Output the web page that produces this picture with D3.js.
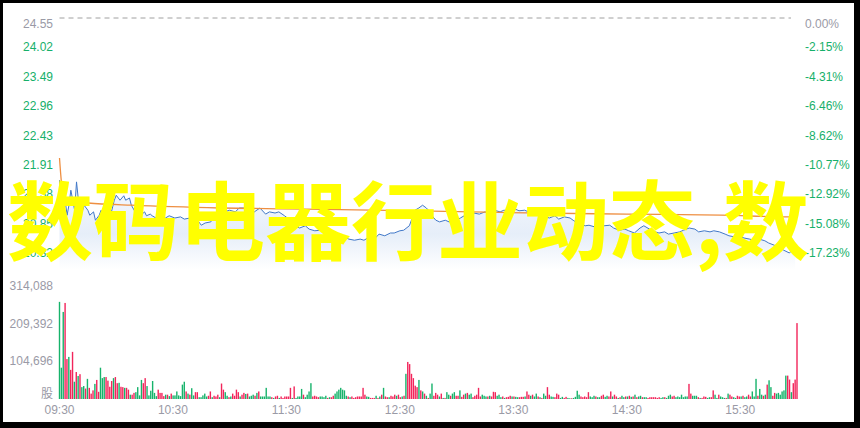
<!DOCTYPE html>
<html><head><meta charset="utf-8">
<script src="https://cdn.jsdelivr.net/npm/d3@7"></script>
<style>html,body{margin:0;padding:0;background:#000;}svg{display:block;}</style>
</head><body>
<svg id="c" width="860" height="428"></svg>
<script>
// ---- data ----
const priceTicks = [24.55, 24.02, 23.49, 22.96, 22.43, 21.91, 21.38, 20.85, 20.32];
const pctTicks = ["0.00%", "-2.15%", "-4.31%", "-6.46%", "-8.62%", "-10.77%", "-12.92%", "-15.08%", "-17.23%"];
const volTicks = [314088, 209392, 104696];
const volTickLabels = ["314,088", "209,392", "104,696"];
const timeTicks = [0, 60, 120, 180, 240, 300, 360];
const timeLabels = ["09:30", "10:30", "11:30", "12:30", "13:30", "14:30", "15:30"];
const prevClose = 24.55;

const priceMinutes = [0,1,2,3,4,5,6,7,8,9,10,11,12,13,15,16,18,19,21,22,24,26,27,29,30,32,34,35,37,38,40,41,43,45,46,48,49,51,53,56,58,61,64,66,69,72,73,75,77,80,82,85,87,90,93,95,98,101,103,106,109,111,114,116,119,122,124,127,130,132,135,138,140,143,146,148,151,153,156,159,161,164,167,169,172,175,177,180,182,185,187,188,190,192,194,196,197,199,201,204,206,209,212,214,217,219,222,225,227,230,233,235,238,241,243,246,248,251,254,256,259,262,264,267,270,272,275,278,280,283,286,288,291,293,296,299,301,304,307,309,312,315,317,320,322,325,328,330,333,336,338,341,344,346,349,352,354,357,359,362,365,367,370,373,375,378,381,383,386,389];
const prices = [21.63,21.36,21.00,21.27,21.00,21.18,21.45,21.27,21.09,21.60,21.27,21.09,21.06,21.18,21.09,21.00,21.06,20.91,21.00,21.09,20.95,20.82,21.00,21.27,21.36,21.27,21.35,21.27,21.31,21.18,21.06,21.13,21.00,21.06,20.99,21.02,20.99,20.95,20.99,20.95,20.99,20.95,20.97,20.93,20.95,20.88,20.91,20.82,20.86,20.88,20.99,21.06,21.06,21.09,21.06,21.13,21.13,21.09,21.06,21.13,21.02,21.06,21.04,21.06,20.99,20.91,20.82,20.77,20.81,20.75,20.72,20.73,20.70,20.72,20.66,20.63,20.61,20.57,20.55,20.57,20.55,20.61,20.59,20.66,20.63,20.68,20.68,20.72,20.73,20.81,20.99,21.09,21.13,21.18,21.13,21.06,20.99,20.91,20.88,20.91,20.88,20.90,20.95,20.99,21.00,21.04,21.02,21.06,21.04,21.09,21.06,21.09,21.08,21.11,21.08,21.09,21.06,21.09,21.06,20.99,20.95,20.99,20.93,20.97,20.95,20.90,20.84,20.81,20.82,20.79,20.77,20.81,20.82,20.77,20.73,20.75,20.72,20.68,20.77,20.81,20.75,20.70,20.68,20.70,20.66,20.68,20.70,20.73,20.77,20.75,20.70,20.72,20.70,20.72,20.70,20.66,20.63,20.61,20.63,20.59,20.57,20.55,20.57,20.54,20.50,20.46,20.41,20.37,20.32,20.43];

const avgMinutes = [0, 1, 2, 3, 5, 15, 38, 85, 130, 190, 233, 300, 350, 388, 390];
const avgPrices = [22.03, 21.60, 21.35, 21.27, 21.25, 21.22, 21.18, 21.13, 21.11, 21.08, 21.05, 21.02, 21.00, 20.97, 21.01];

// volume (thousand shares) per minute and bar colour (R = up, G = down)
const volumesK = [
 270,87,242,267,111,117,81,131,48,75,64,69,33,36,29,56,31,15,24,42,53,20,87,58,61,61,51,34,50,58,61,44,45,34,33,31,31,26,12,12,17,19,33,10,53,44,58,36,10,23,50,17,8,26,17,17,8,12,12,8,15,10,10,21,10,8,40,48,21,15,12,30,10,19,
 19,5,5,10,15,7,9,21,5,9,7,12,5,43,26,19,9,5,7,15,9,26,19,7,12,17,14,15,7,9,12,9,17,21,7,7,7,31,7,7,5,3,7,9,3,7,3,7,7,7,31,3,35,3,7,7,28,12,5,12,21,44,7,9,7,5,7,7,5,9,3,5,5,9,15,21,26,31,26,24,9,7,5,7,3,5,7,7,7,31,12,7,6,3,3,3,9,3,7,12,31,7,5,5,9,7,12,9,12,5,7,9,
 70,103,97,70,
 58,37,33,53,24,21,15,9,3,15,43,9,17,12,7,15,3,3,19,12,9,15,19,9,9,24,6,12,15,17,12,15,5,9,12,31,7,12,9,7,7,9,7,20,19,9,12,5,7,3,5,6,9,7,7,6,5,5,6,6,7,21,12,9,12,7,15,7,5,3,15,9,33,12,7,6,5,15,12,3,6,3,6,3,2,2,3,6,23,12,7,5,7,5,19,7,5,9,7,5,5,9,12,6,9,7,21,7,12,7,3,5,9,5,7,7,9,6,7,12,5,7,9,5,
 5,5,3,5,5,5,5,3,5,3,5,5,3,
 9,12,7,9,5,7,5,12,5,7,7,42,15,9,9,9,5,3,3,7,6,3,5,5,24,12,3,12,7,5,3,3,15,12,7,5,3,9,7,7,9,5,7,12,7,21,7,56,9,28,12,9,12,40,52,33,9,17,15,17,12,21,24,65,65,54,19,44,54,211
];
const volDirs = (
 "GGGRRGRRGRGRGGRGRRRGRRGGGRRRRGRRGRRGRRGRRGGGGRRGGGGGGRRRRGRGRGGGGGGGRGRGGR" +
 "RGGGGGRRGRRRGRRGGRGRRRRGRRGRGGGRGRGGGGGGRGRRGRRRRRRGRGGGGRGGGGRRRRGGGGRGRRGGGGGGGRGRRRRRRRRGGRRRGRGRGRRGRRRGRRGR" +
 "GRRR" +
 "RRRGRGRGRGGRRRGRGRGGRGGRRGRRGRGGRRRRRGGGRGRRRGGGRGRRRGRGGRRRGRRGRGGRGRGGRRGGRRRGGRRGGRGGGGRRRRRGGGRGGRRGGRRGRRGRGGRGRGRGRGGR" +
 "GGRRRRRRRGGRG" +
 "GGRRGGGGGGGRRGGGRGRRRGGRRGGRGGGRGRRGGRRGRGGRRGGGRGGRGRGGRRGGGGGGRRGRRR"
).split("");

// ---- layout ----
const plotL = 59.5, plotR = 797;
const priceTop = 18, priceLow = 253, priceBottom = 270;
const volTop = 286, volBase = 399;

const svg = d3.select("#c");
svg.append("rect").attr("x", 3).attr("y", 3).attr("width", 851).attr("height", 419).attr("fill", "#fff");

const x = d3.scaleLinear().domain([0, 390]).range([plotL, plotR]);
const y = d3.scaleLinear().domain([priceTicks[priceTicks.length - 1], priceTicks[0]]).range([priceLow, priceTop]);
const xv = d3.scaleLinear().domain([0, volumesK.length - 1]).range([plotL, plotR]);
const yv = d3.scaleLinear().domain([0, volTicks[0] / 1000]).range([volBase, volTop]);

const font = "'Liberation Sans', Arial, sans-serif";
const gray = "#9a9aa6", green = "#16b06a";

// gradient for price area
const defs = svg.append("defs");
const grad = defs.append("linearGradient").attr("id", "g1").attr("gradientUnits", "userSpaceOnUse")
  .attr("x1", 0).attr("x2", 0).attr("y1", 190).attr("y2", priceBottom);
grad.append("stop").attr("offset", 0).attr("stop-color", "#f3f7fd");
grad.append("stop").attr("offset", 0.55).attr("stop-color", "#e6eef9");
grad.append("stop").attr("offset", 1).attr("stop-color", "#ffffff");

// prev close dashed line
svg.append("line").attr("x1", plotL).attr("x2", plotR - 6)
  .attr("y1", y(prevClose)).attr("y2", y(prevClose))
  .attr("stroke", "#a0a0a0").attr("stroke-width", 1).attr("stroke-dasharray", "5,4");

const pts = priceMinutes.map((m, i) => [m, prices[i]]);
svg.append("path").datum(pts)
  .attr("d", d3.area().x(d => x(d[0])).y0(priceBottom).y1(d => y(d[1])))
  .attr("fill", "url(#g1)");
svg.append("path").datum(pts)
  .attr("d", d3.line().x(d => x(d[0])).y(d => y(d[1])))
  .attr("fill", "none").attr("stroke", "#4178c8").attr("stroke-width", 1);

const apts = avgMinutes.map((m, i) => [m, avgPrices[i]]);
svg.append("path").datum(apts)
  .attr("d", d3.line().curve(d3.curveMonotoneX).x(d => x(d[0])).y(d => y(d[1])))
  .attr("fill", "none").attr("stroke", "#ee8f42").attr("stroke-width", 1.3);

// price labels
priceTicks.forEach((v, i) => {
  const off = i === 0 ? 10 : 4;
  svg.append("text").attr("x", 53).attr("y", y(v) + off).attr("text-anchor", "end")
    .attr("font-family", font).attr("font-size", 12).attr("fill", i === 0 ? gray : green).text(v.toFixed(2));
  svg.append("text").attr("x", 805).attr("y", y(v) + off).attr("text-anchor", "start")
    .attr("font-family", font).attr("font-size", 12).attr("fill", i === 0 ? gray : green).text(pctTicks[i]);
});

// volume bars
const colR = "#f2255b", colG = "#17b36b";
svg.append("g").selectAll("rect").data(volumesK).join("rect")
  .attr("x", (d, i) => xv(i) - 0.7).attr("width", 1.4)
  .attr("y", d => yv(d)).attr("height", d => volBase - yv(d))
  .attr("fill", (d, i) => volDirs[i] === "R" ? colR : colG);

// volume labels
volTicks.forEach((v, i) => {
  svg.append("text").attr("x", 53).attr("y", yv(v / 1000) + 4).attr("text-anchor", "end")
    .attr("font-family", font).attr("font-size", 12).attr("fill", gray).text(volTickLabels[i]);
});
svg.append("text").attr("x", 53).attr("y", volBase - 1).attr("text-anchor", "end")
  .attr("font-family", "'Noto Sans CJK SC', sans-serif").attr("font-size", 12).attr("fill", gray).text("股");

// time labels
timeTicks.forEach((t, i) => {
  svg.append("text").attr("x", x(t)).attr("y", 414).attr("text-anchor", "middle")
    .attr("font-family", font).attr("font-size", 12).attr("fill", gray).text(timeLabels[i]);
});

// overlay title
svg.append("text").attr("x", 7).attr("y", 254)
  .attr("font-family", "'Noto Sans CJK SC', sans-serif").attr("font-weight", "bold").attr("font-size", 86)
  .attr("fill", "#ffff00").text("数码电器行业动态,数");
</script>
</body></html>
